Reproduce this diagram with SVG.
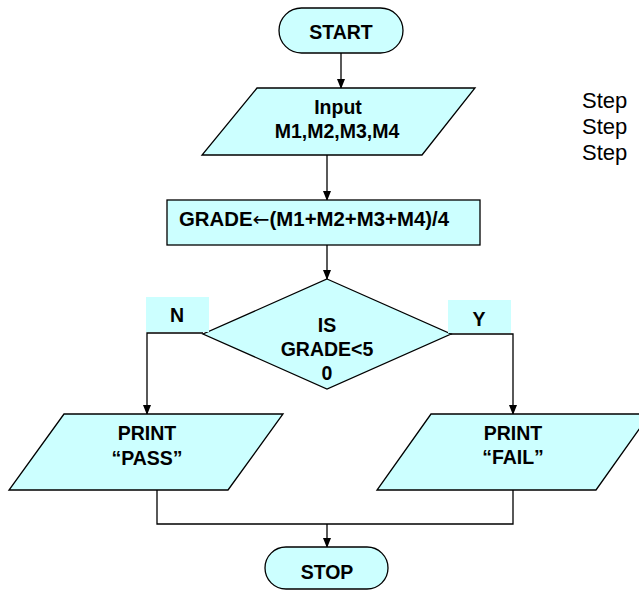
<svg xmlns="http://www.w3.org/2000/svg" width="639" height="592" viewBox="0 0 639 592">
<defs>
<style>
.shape{fill:#CCFFFF;stroke:#000;stroke-width:1.3}
.lbl{fill:#CCFFFF;stroke:none}
.t{font-family:"Liberation Sans",Arial,sans-serif;font-weight:bold;font-size:19.5px;fill:#000;text-anchor:middle}
.s{font-family:"Liberation Sans",Arial,sans-serif;font-size:22px;fill:#000}
.c{fill:none;stroke:#000;stroke-width:1.3}
</style>
<marker id="ah" markerWidth="10" markerHeight="10" refX="9" refY="5" orient="auto" markerUnits="userSpaceOnUse">
<path d="M0,1 L10,5 L0,9 Z" fill="#000"/>
</marker>
</defs>
<rect width="639" height="592" fill="#fff"/>
<g id="connectors">
<line class="c" x1="341" y1="53" x2="341" y2="88" marker-end="url(#ah)"/>
<line class="c" x1="327" y1="155" x2="327" y2="200" marker-end="url(#ah)"/>
<line class="c" x1="327" y1="245" x2="327" y2="279" marker-end="url(#ah)"/>
<polyline class="c" points="203,333 147,333 147,414" marker-end="url(#ah)"/>
<polyline class="c" points="451,334 513,334 513,414" marker-end="url(#ah)"/>
<polyline class="c" points="157,490 157,524 513,524 513,490"/>
<line class="c" x1="327" y1="524" x2="327" y2="547" marker-end="url(#ah)"/>
</g>
<g id="start">
<rect class="shape" x="279" y="8" width="124" height="45" rx="22.5"/>
<text class="t" x="341" y="39">START</text>
</g>
<g id="input">
<polygon class="shape" points="257,88 475,88 422,155 202,155"/>
<text class="t" x="338" y="114">Input</text>
<text class="t" x="337" y="138">M1,M2,M3,M4</text>
</g>
<g id="grade">
<rect class="shape" x="167" y="200" width="313" height="45"/>
<text class="t" x="314" y="226" textLength="270" lengthAdjust="spacingAndGlyphs">GRADE<tspan font-family="DejaVu Sans" font-weight="normal">←</tspan>(M1+M2+M3+M4)/4</text>
</g>
<g id="decision">
<polygon class="shape" points="327,279 451,334 327,389 203,334"/>
<text class="t" x="327" y="332">IS</text>
<text class="t" x="327" y="356">GRADE&lt;5</text>
<text class="t" x="327" y="380">0</text>
</g>
<g id="label-n">
<rect class="lbl" x="146" y="297" width="63" height="35"/>
<text class="t" x="177" y="322">N</text>
</g>
<g id="label-y">
<rect class="lbl" x="448" y="300" width="63" height="33"/>
<text class="t" x="479" y="326">Y</text>
</g>
<g id="print-pass">
<polygon class="shape" points="64,414 283,414 228,490 9,490"/>
<text class="t" x="147" y="440">PRINT</text>
<text class="t" x="147" y="465">“PASS”</text>
</g>
<g id="print-fail">
<polygon class="shape" points="431,414 650,414 596,490 377,490"/>
<text class="t" x="513" y="440">PRINT</text>
<text class="t" x="513" y="464">“FAIL”</text>
</g>
<g id="stop">
<rect class="shape" x="265" y="547" width="123" height="42" rx="21"/>
<text class="t" x="327" y="579">STOP</text>
</g>
<g id="steps">
<text class="s" x="582" y="108">Step</text>
<text class="s" x="582" y="134">Step</text>
<text class="s" x="582" y="160">Step</text>
</g>
</svg>
